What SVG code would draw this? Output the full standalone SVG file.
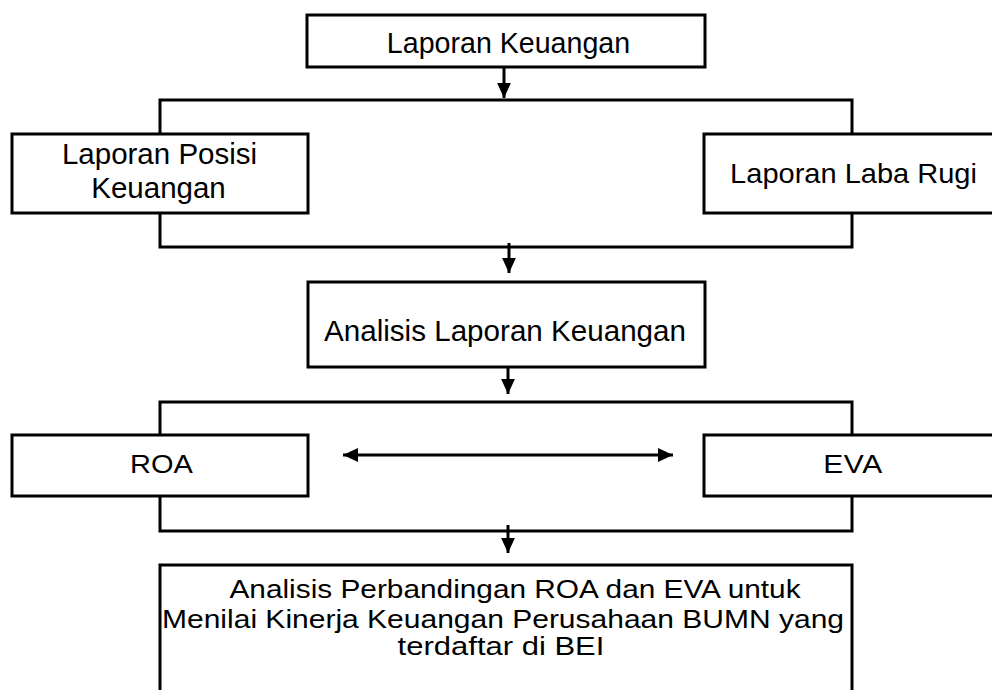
<svg xmlns="http://www.w3.org/2000/svg" width="992" height="690" viewBox="0 0 992 690">
<style>
.box{fill:#fff;stroke:#000;stroke-width:3}
.br{fill:none;stroke:#000;stroke-width:3}
.ln{fill:none;stroke:#000;stroke-width:3}
text{font-family:"Liberation Sans",Arial,sans-serif;fill:#000;text-anchor:middle}
</style>
<defs>
<marker id="ah" viewBox="0 0 10 10" refX="10" refY="5" markerWidth="5" markerHeight="4.6" markerUnits="strokeWidth" orient="auto-start-reverse" preserveAspectRatio="none">
<path d="M0,0 L10,5 L0,10 z" fill="#000"/>
</marker>
</defs>
<rect width="992" height="690" fill="#fff"/>
<g id="connectors">
<rect class="br" x="160" y="100" width="692" height="147"/>
<rect class="br" x="160" y="402" width="692" height="129"/>
<line class="ln" x1="504" y1="67" x2="504" y2="98" marker-end="url(#ah)"/>
<line class="ln" x1="509" y1="243" x2="509" y2="273" marker-end="url(#ah)"/>
<line class="ln" x1="508" y1="367" x2="508" y2="394" marker-end="url(#ah)"/>
<line class="ln" x1="508" y1="525" x2="508" y2="553" marker-end="url(#ah)"/>
<line class="ln" x1="343" y1="455" x2="673" y2="455" marker-start="url(#ah)" marker-end="url(#ah)"/>
</g>
<g id="n-laporan-keuangan">
<rect class="box" x="307" y="15" width="398" height="52"/>
<text x="508.5" y="53" font-size="28.6">Laporan Keuangan</text>
</g>
<g id="n-posisi">
<rect class="box" x="12" y="134" width="296" height="79"/>
<text x="159.5" y="164" font-size="29.5">Laporan Posisi</text>
<text x="158.5" y="198" font-size="29.5">Keuangan</text>
</g>
<g id="n-labarugi">
<rect class="box" x="704" y="134" width="310" height="79"/>
<text transform="translate(853.5,183) scale(1.075,1)" x="0" y="0" font-size="27">Laporan Laba Rugi</text>
</g>
<g id="n-analisis">
<rect class="box" x="308" y="282" width="397" height="85"/>
<text x="505" y="341" font-size="29.6">Analisis Laporan Keuangan</text>
</g>
<g id="n-roa">
<rect class="box" x="12" y="435" width="296" height="61"/>
<text transform="translate(161.5,473) scale(1.16,1)" x="0" y="0" font-size="25">ROA</text>
</g>
<g id="n-eva">
<rect class="box" x="704" y="435" width="310" height="61"/>
<text transform="translate(853,473) scale(1.2,1)" x="0" y="0" font-size="25" letter-spacing="0.5">EVA</text>
</g>
<g id="n-perbandingan">
<rect class="box" x="160" y="565" width="692" height="140"/>
<text transform="translate(515,598) scale(1.193,1)" x="0" y="0" font-size="25">Analisis Perbandingan ROA dan EVA untuk</text>
<text transform="translate(503,628) scale(1.2,1)" x="0" y="0" font-size="25">Menilai Kinerja Keuangan Perusahaan BUMN yang</text>
<text transform="translate(501,655) scale(1.24,1)" x="0" y="0" font-size="25">terdaftar di BEI</text>
</g>
</svg>
